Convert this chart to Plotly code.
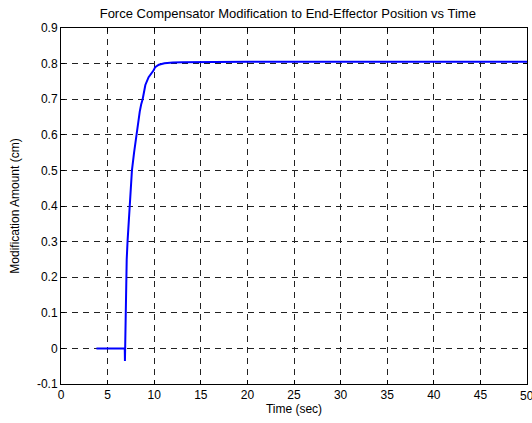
import plotly.graph_objects as go

time_s = [3.8, 6.84, 6.86, 6.88, 6.9, 6.93, 6.96, 7.05, 7.14, 7.26, 7.37, 7.48, 7.61, 7.84, 8.08, 8.25, 8.45, 8.6, 8.76, 9.05, 9.4, 9.94, 10.1, 10.5, 11.1, 12.0, 13.0, 20.0, 30.0, 40.0, 50.0]
modification_cm = [0.0, 0.0, -0.035, 0.0, 0.06, 0.13, 0.2, 0.25, 0.3, 0.35, 0.4, 0.45, 0.5, 0.55, 0.6, 0.635, 0.665, 0.685, 0.7, 0.74, 0.762, 0.781, 0.79, 0.797, 0.801, 0.803, 0.804, 0.805, 0.805, 0.805, 0.805]

x_ticks = [0, 5, 10, 15, 20, 25, 30, 35, 40, 45, 50]
y_ticks = [-0.1, 0, 0.1, 0.2, 0.3, 0.4, 0.5, 0.6, 0.7, 0.8, 0.9]
y_labels = ["-0.1", "0", "0.1", "0.2", "0.3", "0.4", "0.5", "0.6", "0.7", "0.8", "0.9"]

FONT = "Liberation Sans, Arial"
fig = go.Figure()
fig.add_trace(go.Scatter(x=time_s, y=modification_cm, mode="lines",
                         line=dict(color="#0000ff", width=2), showlegend=False))

grid = dict(showgrid=True, gridcolor="#222", gridwidth=1, griddash="6px,5px",
            showline=True, linecolor="black", linewidth=1, mirror="ticks",
            ticks="inside", ticklen=4, tickcolor="black", zeroline=False,
            tickfont=dict(family=FONT, size=12, color="black"))

fig.update_xaxes(range=[0, 50], tickvals=x_ticks, ticktext=[str(v) for v in x_ticks],
                 title=dict(text="Time (sec)", font=dict(family=FONT, size=12, color="black"), standoff=2),
                 **grid)
fig.update_yaxes(range=[-0.1, 0.9], tickvals=y_ticks, ticktext=y_labels,
                 title=dict(text="Modification Amount (cm)", font=dict(family=FONT, size=12, color="black"), standoff=14),
                 **grid)

fig.add_annotation(x=50, y=0, xref="x", yref="paper", yanchor="middle", yshift=-12, text="50",
                   showarrow=False, font=dict(family=FONT, size=12, color="black"))

fig.update_layout(
    width=532, height=423,
    margin=dict(l=61, r=5, t=28, b=39),
    paper_bgcolor="white", plot_bgcolor="white",
    title=dict(text="Force Compensator Modification to End-Effector Position vs Time",
               font=dict(family=FONT, size=13, color="black"),
               x=0.541, xanchor="center", y=0.969, yanchor="middle"),
)

fig.write_html("out.html")
